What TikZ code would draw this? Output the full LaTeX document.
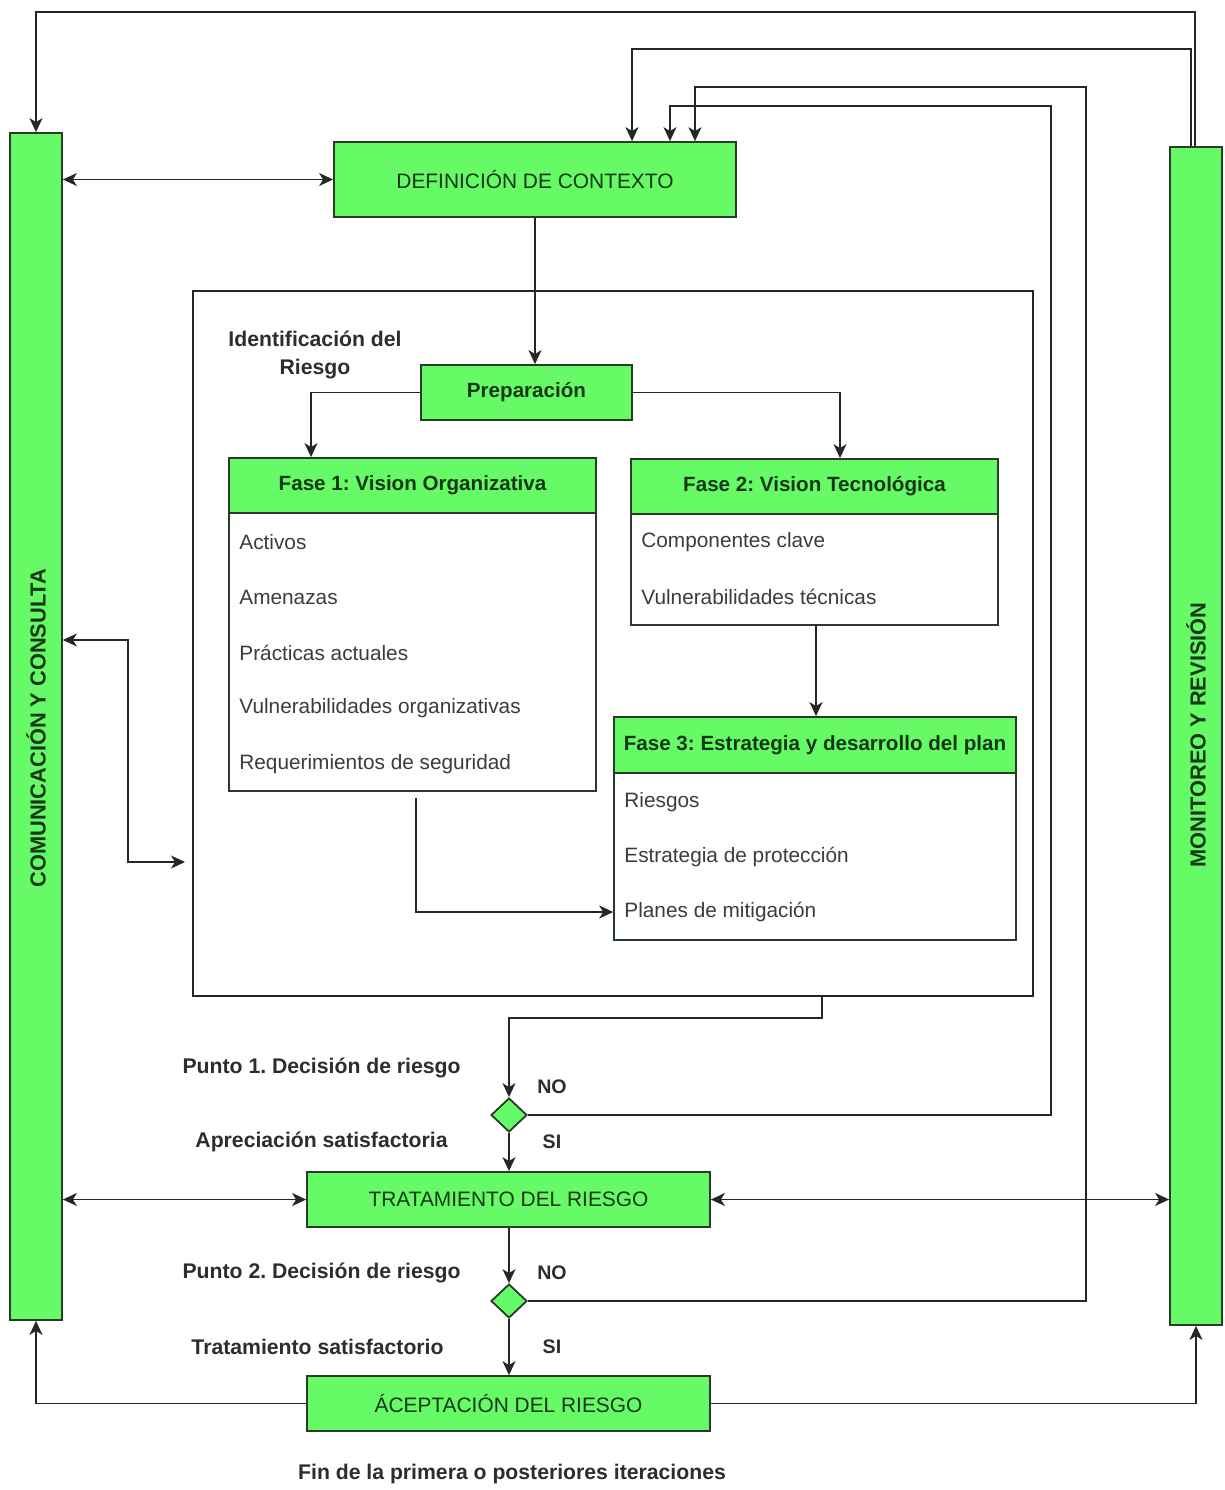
\documentclass[tikz,border=0pt]{standalone}
\usepackage{fontspec}
\setmainfont{Liberation Sans}
\usetikzlibrary{arrows.meta,shapes.geometric}
\definecolor{boxgreen}{RGB}{102,250,102}
\definecolor{boxline}{RGB}{40,60,40}
\definecolor{boxtext}{RGB}{20,55,20}
\definecolor{itemtext}{RGB}{60,60,60}
\definecolor{labeltext}{RGB}{45,45,45}
\tikzset{
  gbox/.style={draw=boxline, line width=0.9pt, fill=boxgreen, text=boxtext, inner sep=0pt, font=\fontsize{10.45}{12}\selectfont},
  hbox/.style={gbox, font=\bfseries\fontsize{10.3}{12}\selectfont},
  wbox/.style={draw=boxline, line width=0.8pt, fill=white, inner sep=0pt},
  frame/.style={draw=black!85, line width=0.7pt, inner sep=0pt},
  item/.style={anchor=west, text=itemtext, inner sep=0pt, font=\fontsize{10.4}{12}\selectfont},
  lbl/.style={text=labeltext, inner sep=0pt, font=\bfseries\fontsize{10.6}{14}\selectfont},
  yn/.style={text=labeltext, inner sep=0pt, font=\bfseries\fontsize{9.8}{12}\selectfont},
  vlabel/.style={rotate=90, text=boxtext, inner sep=0pt, font=\bfseries\fontsize{10.9}{12}\selectfont},
  decision/.style={diamond, draw=boxline, line width=0.9pt, fill=boxgreen, inner sep=0pt, minimum width=18pt, minimum height=17pt},
  tip/.style={Stealth[length=7pt,width=6.5pt,inset=2pt]},
  arr/.style={draw=black!85, line width=0.75pt, -{Stealth[length=7pt,width=6.5pt,inset=2pt]}},
  darr/.style={draw=black!85, line width=0.75pt, {Stealth[length=7pt,width=6.5pt,inset=2pt]}-{Stealth[length=7pt,width=6.5pt,inset=2pt]}},
}
\begin{document}
\frenchspacing
\begin{tikzpicture}[x=0.5pt,y=-0.5pt]
\useasboundingbox[fill=white] (0,0) rectangle (1225,1490);

% side bars
\node[gbox, minimum width=26pt, minimum height=593.5pt] (leftbar) at (36,726.5) {};
\node[vlabel] (leftlabel) at (36,728) {COMUNICACIÓN Y CONSULTA};
\node[gbox, minimum width=26pt, minimum height=589pt] (rightbar) at (1196,736) {};
\node[vlabel] (rightlabel) at (1196,735) {MONITOREO Y REVISIÓN};

% main process boxes
\node[gbox, minimum width=201pt, minimum height=37.5pt] (defc) at (535,179.5) {DEFINICIÓN DE CONTEXTO};
\node[gbox, minimum width=201.5pt, minimum height=27.5pt] (trat) at (508.5,1199.5) {TRATAMIENTO DEL RIESGO};
\node[gbox, minimum width=201.5pt, minimum height=27.5pt] (acep) at (508.5,1403.5) {ÁCEPTACIÓN DEL RIESGO};

% risk identification frame
\node[frame, minimum width=420pt, minimum height=352.5pt] (frame) at (613,643.5) {};
\node[lbl, align=center] (idlabel) at (315,355) {Identificación del\\Riesgo};

\node[hbox, minimum width=105.5pt, minimum height=27.5pt] (prep) at (526.5,392.5) {Preparación};

% phase 1
\node[wbox, minimum width=183.5pt, minimum height=139pt] (f1b) at (412.5,652) {};
\node[hbox, minimum width=183.5pt, minimum height=27.5pt] (f1h) at (412.5,485.5) {Fase 1: Vision Organizativa};
\node[item] (a1) at (239,542) {Activos};
\node[item] (a2) at (239,597) {Amenazas};
\node[item] (a3) at (239,653) {Prácticas actuales};
\node[item] (a4) at (239,708) {Vulnerabilidades organizativas};
\node[item] (a5) at (239,764) {Requerimientos de seguridad};

% phase 2
\node[wbox, minimum width=183.5pt, minimum height=55.5pt] (f2b) at (814.5,569.5) {};
\node[hbox, minimum width=183.5pt, minimum height=27.5pt] (f2h) at (814.5,486.5) {Fase 2: Vision Tecnológica};
\node[item] (b1) at (641,542) {Componentes clave};
\node[item] (b2) at (641,597) {Vulnerabilidades técnicas};

% phase 3
\node[wbox, minimum width=201pt, minimum height=83.5pt] (f3b) at (815,856.5) {};
\node[hbox, minimum width=201pt, minimum height=28pt] (f3h) at (815,745) {Fase 3: Estrategia y desarrollo del plan};
\node[item] (c1) at (624,802) {Riesgos};
\node[item] (c2) at (624,857) {Estrategia de protección};
\node[item] (c3) at (624,912) {Planes de mitigación};

% decision points
\node[decision] (d1) at (509,1115) {};
\node[decision] (d2) at (509,1301) {};
\node[lbl, anchor=east] (p1) at (461,1068) {Punto 1. Decisión de riesgo};
\node[yn] (no1) at (552,1087) {NO};
\node[lbl, anchor=east] (s1) at (448,1142) {Apreciación satisfactoria};
\node[yn] (si1) at (552,1142) {SI};
\node[lbl, anchor=east] (p2) at (461,1273) {Punto 2. Decisión de riesgo};
\node[yn] (no2) at (552,1273) {NO};
\node[lbl, anchor=east] (s2) at (444,1347) {Tratamiento satisfactorio};
\node[yn] (si2) at (552,1347) {SI};
\node[lbl] (fin) at (512,1474) {Fin de la primera o posteriores iteraciones};

% routing points
\coordinate (top1) at (36,12);
\coordinate (top2) at (632,49);
\coordinate (loop2r) at (1086,87);
\coordinate (loop2l) at (695,87);
\coordinate (loop1r) at (1051,106);
\coordinate (loop1l) at (670,106);
\coordinate (p1x) at (311,0);
\coordinate (p2x) at (840,0);
\coordinate (lk1) at (128,640);
\coordinate (lk2) at (185,862);
\coordinate (fb) at (822,1018);

% connectors
\draw[arr] ([xshift=-0.5pt]rightbar.north) |- (top1) -- (leftbar.north);
\draw[arr] ([xshift=-2.5pt]rightbar.north) |- (top2) -- (top2 |- defc.north);
\draw[arr] (d2.east) -| (loop2r) -- (loop2l) -- (loop2l |- defc.north);
\draw[arr] (d1.east) -| (loop1r) -- (loop1l) -- (loop1l |- defc.north);
\draw[darr] (leftbar.east |- defc.west) -- (defc.west);
\draw[arr] (defc.south) -- (defc.south |- prep.north);
\draw[arr] (prep.west) -| (p1x |- f1h.north);
\draw[arr] (prep.east) -| (p2x |- f2h.north);
\draw[arr] ([xshift=0.75pt]f2b.south) -- ([xshift=0.75pt]f2b.south |- f3h.north);
\draw[arr] ([xshift=1.75pt,yshift=-3pt]f1b.south) |- (f3b.west |- c3.west);
\draw[darr] (leftbar.east |- lk1) -- (lk1) |- (lk2);
\draw[arr] (frame.south -| fb) -- (fb) -| (d1.north);
\draw[arr] (d1.south) -- (d1.south |- trat.north);
\draw[arr] (trat.south -| d2.north) -- (d2.north);
\draw[arr] (d2.south) -- (d2.south |- acep.north);
\draw[darr] (leftbar.east |- trat.west) -- (trat.west);
\draw[darr] (trat.east) -- (rightbar.west |- trat.east);
\draw[arr] (acep.west) -| (leftbar.south);
\draw[arr] (acep.east) -| (rightbar.south);
\end{tikzpicture}
\end{document}
